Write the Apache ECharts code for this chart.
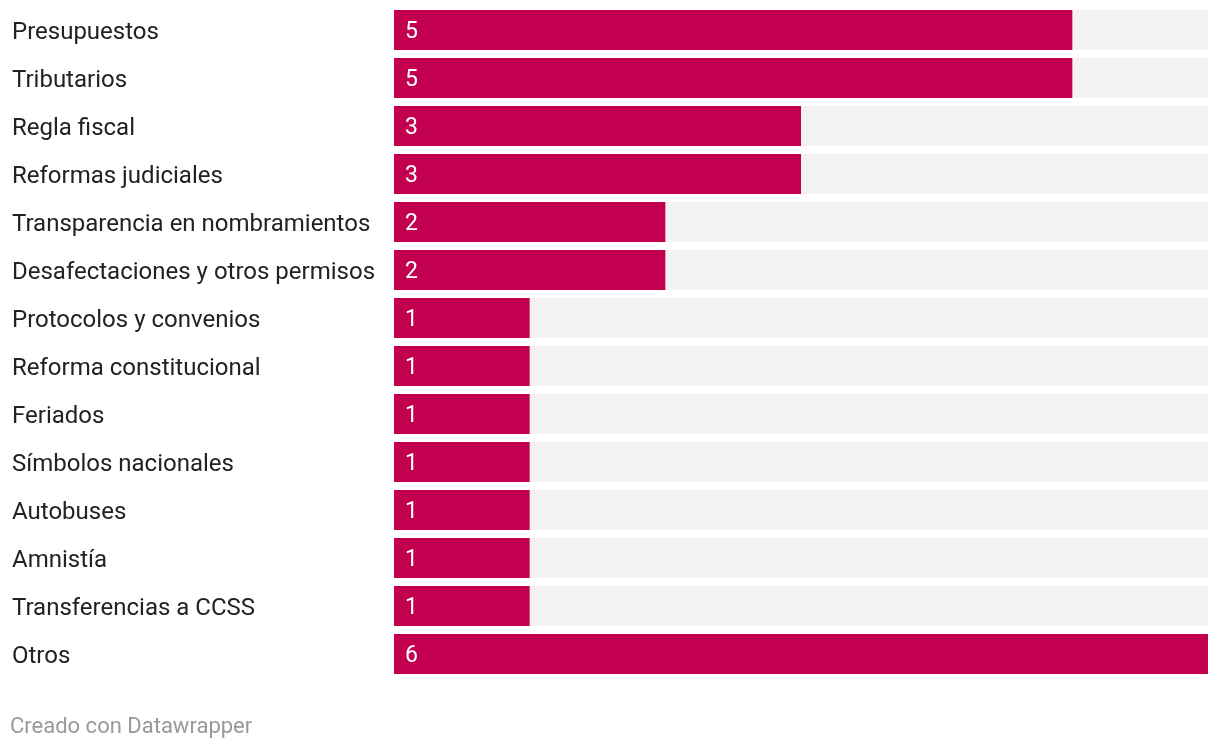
<!DOCTYPE html>
<html><head><meta charset="utf-8">
<script src="https://cdn.jsdelivr.net/npm/echarts@6/dist/echarts.min.js"></script>
<style>html,body{margin:0;padding:0;background:#fff}#c{width:1220px;height:750px}</style>
</head><body><div id="c"></div>
<script>
const categories = ["Presupuestos","Tributarios","Regla fiscal","Reformas judiciales","Transparencia en nombramientos","Desafectaciones y otros permisos","Protocolos y convenios","Reforma constitucional","Feriados","Símbolos nacionales","Autobuses","Amnistía","Transferencias a CCSS","Otros"];
const values = [5,5,3,3,2,2,1,1,1,1,1,1,1,6];
const maxValue = 6;
const footer = "Creado con Datawrapper";

const chart = echarts.init(document.getElementById('c'), null, {renderer:'canvas'});
chart.setOption({
  animation:false,
  textStyle:{fontFamily:'Roboto'},
  grid:{left:394,right:12,top:6,bottom:72,containLabel:false},
  xAxis:{type:'value',min:0,max:maxValue,show:false},
  yAxis:{type:'category',data:categories,inverse:true,
    axisLine:{show:false},axisTick:{show:false},
    axisLabel:{align:'left',margin:382,formatter:v=>'{a|'+v+'}',
      rich:{a:{fontSize:24,color:'#222',fontFamily:'Roboto',padding:[5,0,0,0]}}}},
  series:[{type:'bar',data:values,barWidth:40,
    itemStyle:{color:'#c2004f'},
    showBackground:true,backgroundStyle:{color:'#f2f2f2'},
    label:{show:true,position:'insideLeft',distance:11,offset:[0,2],color:'#fff',fontSize:23,fontFamily:'Roboto'}}],
  graphic:[{type:'text',left:10,top:716,style:{text:footer,fontSize:22,fill:'#999',fontFamily:'Roboto'}}]
});
</script></body></html>
